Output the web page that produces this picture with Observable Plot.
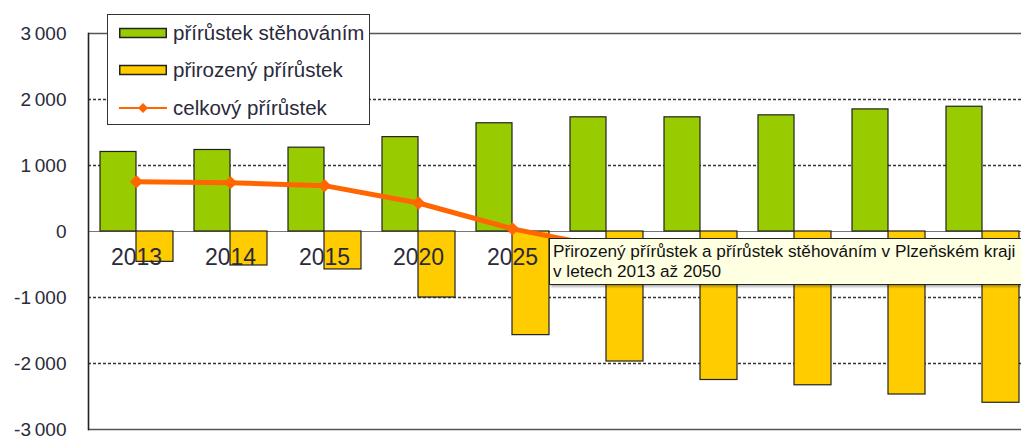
<!DOCTYPE html>
<html>
<head>
<meta charset="utf-8">
<script src="https://cdn.jsdelivr.net/npm/d3@7"></script>
<script src="https://cdn.jsdelivr.net/npm/@observablehq/plot@0.6"></script>
<style>
  html, body { margin: 0; padding: 0; background: #fff; }
  #wrap { position: relative; width: 1021px; height: 438px; overflow: hidden; font-family: "Liberation Sans", Arial, sans-serif; }
  #legend { position: absolute; left: 107px; top: 14px; width: 261px; height: 109px; background: #fff; border: 1.5px solid #333; }
  .item { position: absolute; left: 11px; height: 22px; display: flex; align-items: center; font-size: 20.5px; color: #2a2a3a; }
  .item svg { margin-right: 6px; }
  #tip { position: absolute; left: 549px; top: 238px; width: 520px; height: 47px; background: #ffffe1; border: 1px solid #222; box-shadow: 2px 2px 2px rgba(0,0,0,0.3); font-family: "Liberation Sans", Arial, sans-serif; font-size: 17.2px; line-height: 20px; color: #111; padding: 2px 3px; box-sizing: border-box; white-space: nowrap; }
</style>
</head>
<body>
<div id="wrap">
  <div id="chart"></div>
  <div id="legend"></div>
  <div id="tip"></div>
</div>
<script>
const years = ["2013", "2014", "2015", "2020", "2025", "2030", "2035", "2040", "2045", "2050"];
const migration = [1205, 1235, 1270, 1430, 1640, 1730, 1730, 1760, 1850, 1890];
const natural = [-460, -515, -575, -1000, -1570, -1970, -2250, -2330, -2470, -2595];
const total = [755, 740, 695, 432, 40, -240, -520, -570, -620, -705];
const yTicks = [-3000, -2000, -1000, 0, 1000, 2000, 3000];
const gridTicks = [-2000, -1000, 1000, 2000];
const seriesNames = ["přírůstek stěhováním", "přirozený přírůstek", "celkový přírůstek"];
const colors = ["#99cc00", "#ffcc00", "#ff6600"];
const tipText = ["Přirozený přírůstek a přírůstek stěhováním v Plzeňském kraji", "v letech 2013 až 2050"];

const rows = years.map((y, i) => ({year: y, migration: migration[i], natural: natural[i], total: total[i]}));
const fmt = v => (v < 0 ? "-" : "") + d3.format(",")(Math.abs(v)).replace(/,/g, "\u2009");

const chart = Plot.plot({
  width: 1021,
  height: 438,
  marginLeft: 88,
  marginTop: 33,
  marginBottom: 9,
  marginRight: 0,
  style: {fontFamily: "'Liberation Sans', Arial, sans-serif", fontSize: "19px", color: "#2a2a3a", background: "transparent"},
  x: {type: "band", domain: years, range: [89, 1029], padding: 0, axis: null},
  y: {domain: [-3000, 3000], ticks: yTicks, tickFormat: fmt, tickSize: 0, tickPadding: 22, label: null},
  marks: [
    Plot.ruleY(gridTicks, {stroke: "#333", strokeWidth: 1.3, strokeDasharray: "3,2"}),
    Plot.ruleY([3000, -3000], {stroke: "#555", strokeWidth: 1.6}),
    Plot.ruleY([0], {stroke: "#777", strokeWidth: 1.2}),
    Plot.frame({anchor: "left", stroke: "#222", strokeWidth: 1.6}),
    Plot.barY(rows, {x: "year", y: "migration", fill: colors[0], stroke: "#222", strokeWidth: 1.2, insetLeft: 11, insetRight: 47}),
    Plot.barY(rows, {x: "year", y: "natural", fill: colors[1], stroke: "#222", strokeWidth: 1.2, insetLeft: 47, insetRight: 10}),
    Plot.text(rows, {x: "year", y: () => 0, text: "year", dy: 26, fontSize: 23, fill: "#2a2a3a"}),
    Plot.line(rows, {x: "year", y: "total", stroke: colors[2], strokeWidth: 5}),
    Plot.dot(rows, {x: "year", y: "total", symbol: "diamond2", r: 6, fill: colors[2], stroke: "none"})
  ]
});
document.getElementById("chart").appendChild(chart);

// legend
const legend = document.getElementById("legend");
const tops = [7, 44, 82];
seriesNames.forEach((name, i) => {
  const div = document.createElement("div");
  div.className = "item";
  div.style.top = tops[i] + "px";
  let sw;
  if (i < 2) {
    sw = `<svg width="48" height="12"><rect x="0.75" y="1.5" width="46.5" height="9" fill="${colors[i]}" stroke="#222" stroke-width="1.5"/></svg>`;
  } else {
    sw = `<svg width="48" height="12"><line x1="0" y1="6" x2="48" y2="6" stroke="${colors[2]}" stroke-width="2"/><path d="M24,1 L29,6 L24,11 L19,6 Z" fill="${colors[2]}"/></svg>`;
  }
  div.innerHTML = sw + `<span>${name}</span>`;
  legend.appendChild(div);
});

document.getElementById("tip").innerHTML = tipText.join("<br>");
</script>
</body>
</html>
